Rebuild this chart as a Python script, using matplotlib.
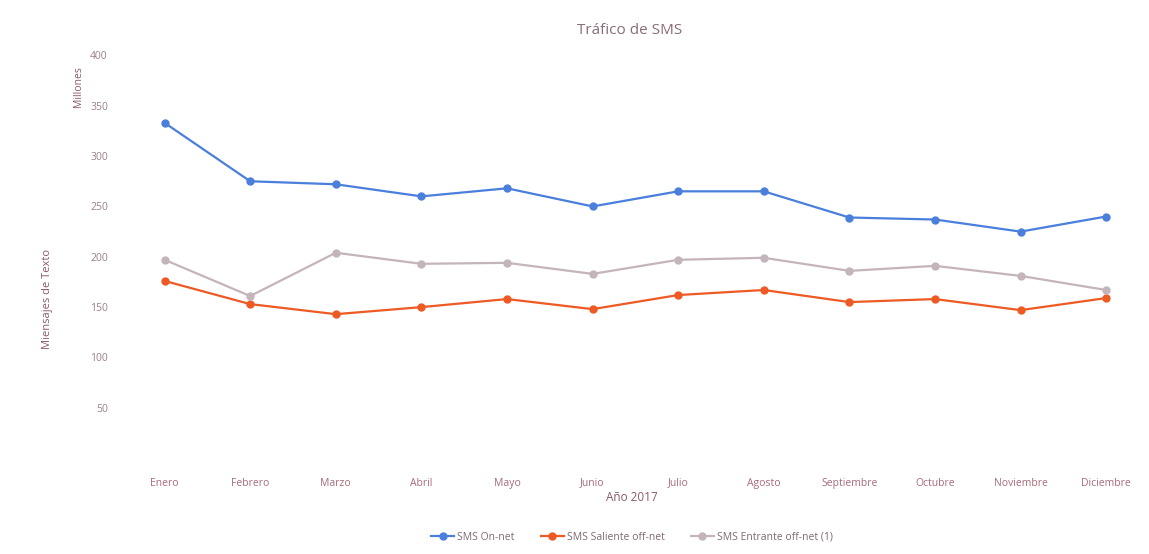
import matplotlib
matplotlib.use("Agg")
import matplotlib.pyplot as plt

months = ["Enero", "Febrero", "Marzo", "Abril", "Mayo", "Junio", "Julio",
          "Agosto", "Septiembre", "Octubre", "Noviembre", "Diciembre"]
sms_on_net = [333, 275, 272, 260, 268, 250, 265, 265, 239, 237, 225, 240]
sms_saliente = [176, 153, 143, 150, 158, 148, 162, 167, 155, 158, 147, 159]
sms_entrante = [197, 161, 204, 193, 194, 183, 197, 199, 186, 191, 181, 167]
yticks = [50, 100, 150, 200, 250, 300, 350, 400]

plt.rcParams['font.family'] = ['Open Sans', 'DejaVu Sans']

fig = plt.figure(figsize=(11.49, 5.54), dpi=100)
ax = fig.add_axes([0.106, 0.173, 0.894, 0.727])

x = list(range(len(months)))
ax.plot(x, sms_on_net, color="#4a7fdc", marker="o", markersize=5, lw=1.6, label="SMS On-net")
ax.plot(x, sms_saliente, color="#ee5a24", marker="o", markersize=5, lw=1.6, label="SMS Saliente off-net")
ax.plot(x, sms_entrante, color="#c4b4bc", marker="o", markersize=5, lw=1.6, label="SMS Entrante off-net (1)")

ax.set_xlim(-0.5, 11.5)
ax.set_ylim(0, 400)
ax.set_yticks(yticks)
ax.set_xticks(x)
ax.set_xticklabels(months)
ax.tick_params(axis='x', colors="#a86a78", labelsize=7.5, length=0, pad=14)
ax.tick_params(axis='y', colors="#9a8088", labelsize=7.5, length=0, pad=10)
for s in ax.spines.values():
    s.set_visible(False)

fig.text(0.548, 0.945, "Tráfico de SMS", ha="center", va="center", fontsize=11, color="#8a6c78")
fig.text(0.068, 0.843, "Millones", rotation=90, ha="center", va="center", fontsize=7.5, color="#8a5a68")
fig.text(0.041, 0.46, "Miensajes de Texto", rotation=90, ha="center", va="center", fontsize=8, color="#8a5a68")
fig.text(0.55, 0.102, "Año 2017", ha="center", va="center", fontsize=8.5, color="#8a5a68")

leg = fig.legend(loc="center", bbox_to_anchor=(0.55, 0.03), ncol=3, frameon=False,
                 fontsize=7.5, handlelength=2.2, columnspacing=2.5, handletextpad=0.3)
for t in leg.get_texts():
    t.set_color("#806870")

fig.savefig("out.png", dpi=100, facecolor="white")
